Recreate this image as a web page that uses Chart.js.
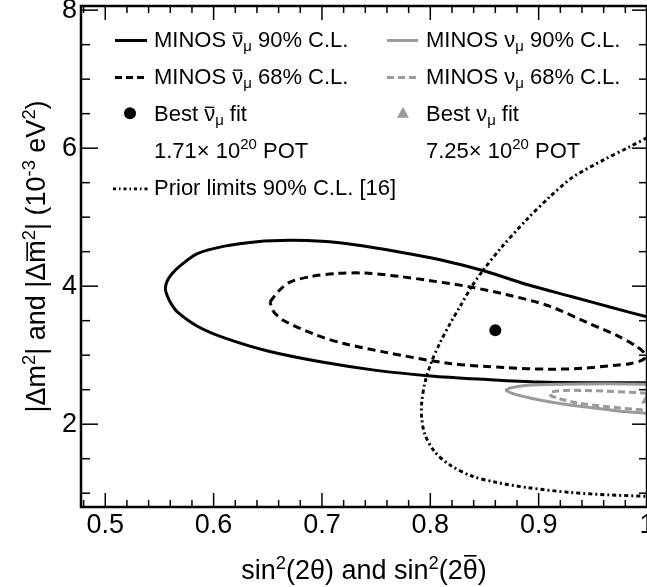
<!DOCTYPE html>
<html>
<head>
<meta charset="utf-8">
<script src="https://cdn.jsdelivr.net/npm/chart.js@4.4.1/dist/chart.umd.min.js"></script>
<style>
  html, body { margin: 0; padding: 0; background: #fff; overflow: hidden; }
  #wrap { width: 647px; height: 587px; position: relative; }
</style>
</head>
<body>
<div id="wrap"><canvas id="chart"></canvas></div>
<script>
// contours: x = sin^2(2θ), y = |Δm^2| in 1e-3 eV^2
const antiNu90X = [1.0, 0.95, 0.90, 0.85, 0.80, 0.75, 0.70, 0.65, 0.61, 0.585, 0.567, 0.561, 0.5575, 0.5555, 0.557, 0.561, 0.568, 0.585, 0.61, 0.64, 0.67, 0.70, 0.73, 0.77, 0.81, 0.85, 0.89, 0.93, 0.97, 1.0];
const antiNu90Y = [2.60, 2.60, 2.61, 2.65, 2.70, 2.78, 2.90, 3.06, 3.25, 3.42, 3.62, 3.74, 3.85, 3.96, 4.07, 4.17, 4.28, 4.47, 4.58, 4.645, 4.665, 4.65, 4.60, 4.50, 4.38, 4.22, 4.02, 3.85, 3.68, 3.555];

const antiNu68X = [0.652, 0.66, 0.6705, 0.69, 0.7135, 0.74, 0.772, 0.80, 0.8364, 0.87, 0.91, 0.945, 0.9716, 0.99, 0.998, 0.997, 0.985, 0.9716, 0.94, 0.91, 0.87, 0.818, 0.7565, 0.72, 0.695, 0.6643, 0.655, 0.652];
const antiNu68Y = [3.77, 3.93, 4.06, 4.14, 4.184, 4.19, 4.14, 4.08, 3.99, 3.88, 3.71, 3.47, 3.29, 3.13, 3.02, 2.94, 2.88, 2.855, 2.81, 2.797, 2.82, 2.88, 3.048, 3.17, 3.29, 3.507, 3.64, 3.77];

const nu90X = [1.0, 0.96, 0.92, 0.89, 0.875, 0.87, 0.877, 0.892, 0.915, 0.94, 0.97, 1.0];
const nu90Y = [2.58, 2.585, 2.58, 2.565, 2.53, 2.49, 2.44, 2.38, 2.31, 2.255, 2.20, 2.155];

const nu68X = [1.0, 0.96, 0.925, 0.912, 0.91, 0.917, 0.935, 0.96, 1.0];
const nu68Y = [2.45, 2.48, 2.49, 2.465, 2.43, 2.38, 2.31, 2.26, 2.20];

const priorX = [1.0, 0.984, 0.96, 0.9316, 0.91, 0.8887, 0.865, 0.8487, 0.838, 0.828, 0.818, 0.809, 0.801, 0.795, 0.792, 0.792, 0.795, 0.804, 0.818, 0.838, 0.86, 0.89, 0.93, 0.965, 1.0];
const priorY = [6.15, 6.02, 5.83, 5.58, 5.29, 4.96, 4.55, 4.23, 3.99, 3.72, 3.45, 3.18, 2.90, 2.60, 2.30, 2.10, 1.85, 1.60, 1.41, 1.25, 1.16, 1.08, 1.01, 0.975, 0.955];

const bestAntiNu = [0.86, 3.36];
const bestNu = [1.0, 2.35];

// axis ranges and tick spacing
const xMin = 0.4776, xMax = 1.0, xMinor = 0.02, xMajor = 0.1;
const yMin = 0.80, yMax = 8.06, yMinor = 0.5, yMajor = 2;

const FONT = '"Liberation Sans", Arial, Helvetica, sans-serif';
const GRAY = '#9a9a9a';

function pts(xs, ys) {
  return xs.map((x, i) => ({ x: x, y: ys[i] }));
}

function onStep(v, step) {
  const r = v / step;
  return Math.abs(r - Math.round(r)) < 1e-6;
}

function stepTicks(min, max, step) {
  const out = [];
  for (let i = Math.ceil(min / step - 1e-9); i * step <= max + 1e-9; i++) {
    out.push({ value: +(i * step).toFixed(6) });
  }
  return out;
}

// text with superscripts, subscripts and overbars
function rich(ctx, parts, x, y, size, align) {
  const widths = parts.map(p => {
    const s = (p.sup || p.sub) ? size * 0.68 : size;
    ctx.font = s + 'px ' + FONT;
    return ctx.measureText(p.t).width;
  });
  const total = widths.reduce((a, b) => a + b, 0);
  let cx = align === 'center' ? x - total / 2 : x;
  ctx.textAlign = 'left';
  ctx.textBaseline = 'alphabetic';
  parts.forEach((p, i) => {
    const s = (p.sup || p.sub) ? size * 0.68 : size;
    ctx.font = s + 'px ' + FONT;
    let dy = 0;
    if (p.sup) dy = -size * 0.38;
    if (p.sub) dy = size * 0.2;
    ctx.fillText(p.t, cx, y + dy);
    if (p.bar) {
      ctx.save();
      ctx.lineWidth = Math.max(1, size * 0.06);
      ctx.strokeStyle = ctx.fillStyle;
      ctx.beginPath();
      ctx.moveTo(cx + widths[i] * 0.08, y - size * p.bar);
      ctx.lineTo(cx + widths[i] * 0.92, y - size * p.bar);
      ctx.stroke();
      ctx.restore();
    }
    cx += widths[i];
  });
}

function noPad(s) {
  s.paddingTop = 0; s.paddingBottom = 0; s.paddingLeft = 0; s.paddingRight = 0;
}

const frame = {
  id: 'frame',
  afterDraw(chart) {
    const { ctx, chartArea: a, scales: { x, y } } = chart;
    ctx.save();
    ctx.strokeStyle = '#000';
    ctx.lineWidth = 1.5;
    const seg = (x1, y1, x2, y2) => {
      ctx.beginPath(); ctx.moveTo(x1, y1); ctx.lineTo(x2, y2); ctx.stroke();
    };
    x.ticks.forEach(t => {
      const px = x.getPixelForValue(t.value);
      const len = onStep(t.value, xMajor) ? 14 : 7;
      seg(px, a.bottom, px, a.bottom - len);
      seg(px, a.top, px, a.top + len);
    });
    y.ticks.forEach(t => {
      const py = y.getPixelForValue(t.value);
      const big = onStep(t.value, yMajor);
      seg(a.left, py, a.left + (big ? 17 : 9), py);
      seg(a.right, py, a.right - (big ? 15 : 8), py);
    });
    ctx.lineWidth = 2.5;
    ctx.strokeRect(a.left, a.top, a.right - a.left, a.bottom - a.top);

    // axis titles
    ctx.fillStyle = '#000';
    rich(ctx, [
      { t: 'sin' }, { t: '2', sup: true }, { t: '(2θ) and sin' }, { t: '2', sup: true },
      { t: '(2' }, { t: 'θ', bar: 0.86 }, { t: ')' }
    ], (a.left + a.right) / 2, 579, 27, 'center');

    ctx.save();
    ctx.translate(45, (a.top + a.bottom) / 2);
    ctx.rotate(-Math.PI / 2);
    rich(ctx, [
      { t: '|Δm' }, { t: '2', sup: true }, { t: '| and |Δ' }, { t: 'm', bar: 0.66 },
      { t: '2', sup: true }, { t: '| (10' }, { t: '-3', sup: true }, { t: ' eV' },
      { t: '2', sup: true }, { t: ')' }
    ], 0, 0, 27, 'center');
    ctx.restore();

    // legend
    const rowY = i => 46.5 + 37.1 * i;
    const sample = (x1, x2, yy, color, dash, w) => {
      ctx.save();
      ctx.strokeStyle = color; ctx.lineWidth = w; ctx.setLineDash(dash);
      seg(x1, yy, x2, yy);
      ctx.restore();
    };
    const fs = 22;
    sample(115, 147, rowY(0) - 6, '#000', [], 3);
    sample(115, 147, rowY(1) - 6, '#000', [7, 4], 3);
    sample(387, 418, rowY(0) - 6, GRAY, [], 3);
    sample(387, 418, rowY(1) - 6, GRAY, [7, 4], 3);
    sample(113, 148, rowY(4) - 6, '#000', [3, 3, 1.5, 3], 2.6);

    ctx.fillStyle = '#000';
    ctx.beginPath(); ctx.arc(130, rowY(2) - 7.5, 6, 0, Math.PI * 2); ctx.fill();
    ctx.fillStyle = GRAY;
    ctx.beginPath();
    ctx.moveTo(403, rowY(2) - 14); ctx.lineTo(409, rowY(2) - 3); ctx.lineTo(397, rowY(2) - 3);
    ctx.closePath(); ctx.fill();

    ctx.fillStyle = '#000';
    const tx = 154, rx = 426;
    rich(ctx, [{ t: 'MINOS ' }, { t: 'ν', bar: 0.61 }, { t: 'μ', sub: true }, { t: ' 90% C.L.' }], tx, rowY(0), fs);
    rich(ctx, [{ t: 'MINOS ' }, { t: 'ν', bar: 0.61 }, { t: 'μ', sub: true }, { t: ' 68% C.L.' }], tx, rowY(1), fs);
    rich(ctx, [{ t: 'Best ' }, { t: 'ν', bar: 0.61 }, { t: 'μ', sub: true }, { t: ' fit' }], tx, rowY(2), fs);
    rich(ctx, [{ t: '1.71× 10' }, { t: '20', sup: true }, { t: ' POT' }], tx, rowY(3), fs);
    rich(ctx, [{ t: 'Prior limits 90% C.L. [16]' }], tx, rowY(4), fs);
    rich(ctx, [{ t: 'MINOS ' }, { t: 'ν' }, { t: 'μ', sub: true }, { t: ' 90% C.L.' }], rx, rowY(0), fs);
    rich(ctx, [{ t: 'MINOS ' }, { t: 'ν' }, { t: 'μ', sub: true }, { t: ' 68% C.L.' }], rx, rowY(1), fs);
    rich(ctx, [{ t: 'Best ' }, { t: 'ν' }, { t: 'μ', sub: true }, { t: ' fit' }], rx, rowY(2), fs);
    rich(ctx, [{ t: '7.25× 10' }, { t: '20', sup: true }, { t: ' POT' }], rx, rowY(3), fs);
    ctx.restore();
  }
};

const line = (data, color, dash, width) => ({
  type: 'scatter', data: data, showLine: true, borderColor: color, borderWidth: width,
  borderDash: dash, pointRadius: 0, tension: 0.3, fill: false
});

new Chart(document.getElementById('chart'), {
  type: 'scatter',
  data: {
    datasets: [
      line(pts(priorX, priorY), '#000', [4, 3, 2, 3], 2.9),
      line(pts(nu90X, nu90Y), GRAY, [], 3),
      line(pts(nu68X, nu68Y), GRAY, [7, 4], 3),
      line(pts(antiNu90X, antiNu90Y), '#000', [], 3),
      line(pts(antiNu68X, antiNu68Y), '#000', [8, 5], 3),
      { type: 'scatter', data: [{ x: bestAntiNu[0], y: bestAntiNu[1] }], pointRadius: 6,
        backgroundColor: '#000', borderWidth: 0 },
      { type: 'scatter', data: [{ x: bestNu[0], y: bestNu[1] }], pointRadius: 7, pointStyle: 'triangle',
        backgroundColor: GRAY, borderWidth: 0 }
    ]
  },
  options: {
    responsive: true,
    maintainAspectRatio: false,
    animation: false,
    layout: { padding: { top: 6, right: 0, bottom: 0, left: 0 }, autoPadding: false },
    plugins: { legend: { display: false }, tooltip: { enabled: false } },
    scales: {
      x: {
        type: 'linear', min: xMin, max: xMax,
        afterBuildTicks: s => { s.ticks = stepTicks(xMin, xMax, xMinor); },
        afterFit: s => { s.height = 80; noPad(s); },
        grid: { display: false, drawTicks: false }, border: { display: false },
        ticks: {
          autoSkip: false, maxRotation: 0, padding: 2,
          color: '#000', font: { family: FONT, size: 27 },
          callback: v => onStep(v, xMajor) ? (Math.abs(v - 1) < 1e-6 ? '1' : v.toFixed(1)) : ''
        }
      },
      y: {
        type: 'linear', min: yMin, max: yMax,
        afterBuildTicks: s => { s.ticks = stepTicks(yMin, yMax, yMinor); },
        afterFit: s => { s.width = 81; noPad(s); },
        grid: { display: false, drawTicks: false }, border: { display: false },
        ticks: {
          autoSkip: false, padding: 4,
          color: '#000', font: { family: FONT, size: 27 },
          callback: v => onStep(v, yMajor) ? String(Math.round(v)) : ''
        }
      }
    }
  },
  plugins: [frame]
});
</script>
</body>
</html>
